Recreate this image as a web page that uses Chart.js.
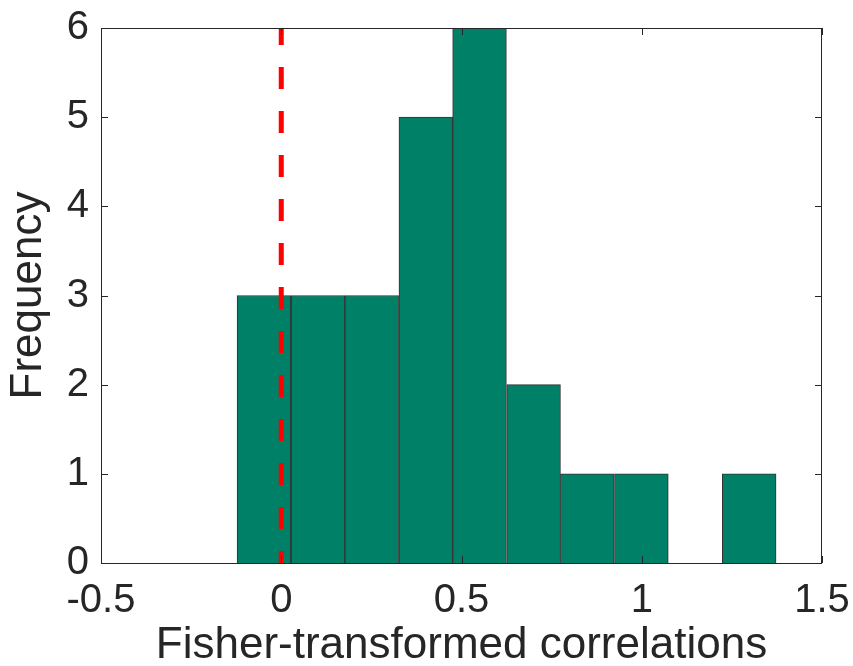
<!DOCTYPE html>
<html>
<head>
<meta charset="utf-8">
<script src="https://cdn.jsdelivr.net/npm/chart.js@4"></script>
<style>
  html, body { margin: 0; padding: 0; background: #fff; }
  #wrap { width: 853px; height: 666px; }
</style>
</head>
<body>
<div id="wrap"><canvas id="chart1" width="853" height="666"></canvas></div>
<script>
// histogram bins (centres) and counts
const binCenters = [-0.048, 0.102, 0.251, 0.401, 0.550, 0.700, 0.849, 0.999, 1.148, 1.298];
const counts = [3, 3, 3, 5, 6, 2, 1, 1, 0, 1];
const zeroLineX = [0, 0];
const zeroLineY = [0, 6];
const xTicks = [-0.5, 0, 0.5, 1, 1.5];
const yTicks = [0, 1, 2, 3, 4, 5, 6];

const textColor = '#262626';
const font = 'Liberation Sans, Arial, Helvetica, sans-serif';

// matlab-like box with inward ticks
const boxPlugin = {
  id: 'box',
  afterDatasetsDraw(chart) {
    const { ctx, chartArea: a, scales } = chart;
    ctx.save();
    ctx.strokeStyle = textColor;
    ctx.lineWidth = 1;
    ctx.strokeRect(a.left + 0.5, a.top + 0.5, a.right - a.left - 1, a.bottom - a.top);
    ctx.beginPath();
    xTicks.forEach(v => {
      const px = Math.round(scales.x.getPixelForValue(v)) + 0.5;
      ctx.moveTo(px, a.bottom); ctx.lineTo(px, a.bottom - 7);
      ctx.moveTo(px, a.top); ctx.lineTo(px, a.top + 7);
    });
    yTicks.forEach(v => {
      const py = Math.round(scales.y.getPixelForValue(v)) + 0.5;
      ctx.moveTo(a.left, py); ctx.lineTo(a.left + 7, py);
      ctx.moveTo(a.right, py); ctx.lineTo(a.right - 7, py);
    });
    ctx.stroke();
    ctx.restore();
  }
};

const ctx = document.getElementById('chart1').getContext('2d');
new Chart(ctx, {
  type: 'bar',
  data: {
    datasets: [{
      type: 'line',
      data: zeroLineX.map((x, i) => ({ x: x, y: zeroLineY[i] })),
      borderColor: '#ff0000',
      borderWidth: 5,
      borderDash: [22, 22],
      borderDashOffset: 10,
      pointRadius: 0,
      fill: false,
      order: 0
    }, {
      data: binCenters.map((x, i) => ({ x: x, y: counts[i] })),
      backgroundColor: '#008066',
      borderColor: '#333333',
      borderWidth: 1,
      barPercentage: 1.0,
      categoryPercentage: 1.0,
      order: 1
    }]
  },
  options: {
    responsive: false,
    animation: false,
    events: [],
    layout: { padding: { left: 0, right: 31, top: 28, bottom: 0 } },
    plugins: {
      legend: { display: false },
      tooltip: { enabled: false }
    },
    scales: {
      x: {
        type: 'linear',
        min: -0.5,
        max: 1.5,
        offset: false,
        grid: { display: false, drawTicks: false },
        border: { display: false },
        ticks: {
          stepSize: 0.5,
          color: textColor,
          padding: 14,
          maxRotation: 0,
          callback: v => String(v),
          font: { family: font, size: 40 }
        },
        title: {
          display: true,
          text: 'Fisher-transformed correlations',
          color: textColor,
          padding: { top: 0, bottom: -6 },
          font: { family: font, size: 44 }
        },
        afterFit(scale) {
          scale.height = 103;
          scale.paddingLeft = 0;
          scale.paddingRight = 0;
        }
      },
      y: {
        min: 0,
        max: 6,
        grid: { display: false, drawTicks: false },
        border: { display: false },
        ticks: {
          stepSize: 1,
          color: textColor,
          padding: 12,
          font: { family: font, size: 40 }
        },
        title: {
          display: true,
          text: 'Frequency',
          color: textColor,
          padding: { top: 2, bottom: 0 },
          font: { family: font, size: 44 }
        },
        afterFit(scale) {
          scale.width = 101;
          scale.paddingTop = 0;
          scale.paddingBottom = 0;
        }
      }
    }
  },
  plugins: [boxPlugin]
});
</script>
</body>
</html>
